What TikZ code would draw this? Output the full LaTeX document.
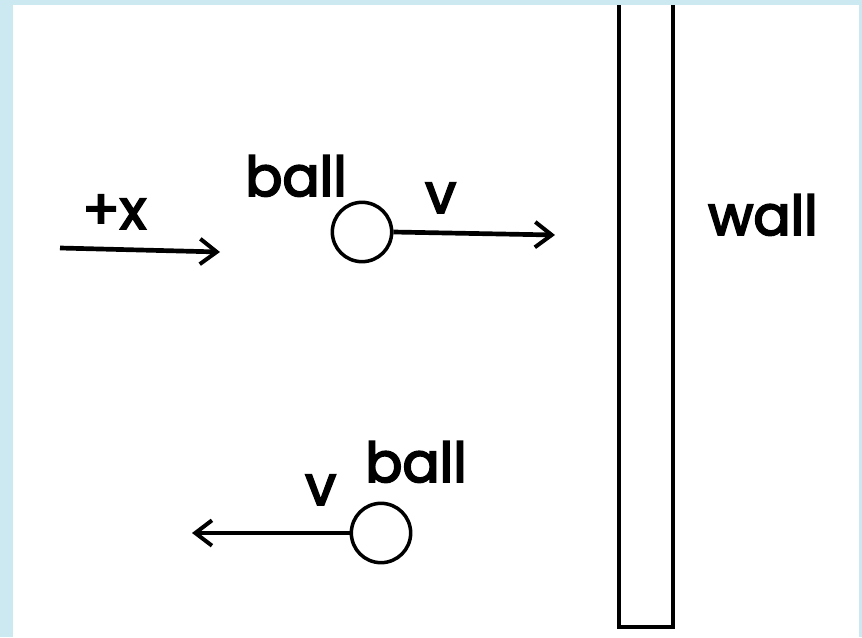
\documentclass[tikz,border=0pt]{standalone}
\usepackage{fontspec}
\setmainfont{Poppins}
\newfontfamily\lblfont{Poppins}[FakeBold=3.5]
\usetikzlibrary{arrows.meta,positioning}
\definecolor{framebg}{HTML}{CCE9F1}
\tikzset{
  ballnode/.style={draw, circle, line width=3pt, inner sep=0pt, minimum size=1.78cm},
  wallbox/.style={draw, line width=3.2pt, inner sep=0pt, minimum width=1.62cm},
  velarrow/.style={-{Straight Barb[length=5mm, width=7.6mm, line width=3.4pt]}, line width=4pt},
  lbl/.style={anchor=base west, inner sep=0pt, font=\fontsize{47}{50}\lblfont},
}

\begin{document}
\begin{tikzpicture}[x=0.03cm, y=-0.03cm]
  % background and frame
  \fill[framebg] (0,0) rectangle (862,637);
  \fill[white] (13,5) rectangle (859,637);
  \useasboundingbox (0,0) rectangle (862,637);

  % wall
  \node[wallbox, minimum height=19.1cm] (wall) at (646,309) {};
  \fill[framebg] (560,0) rectangle (700,5);
  \node[lbl] (walllbl) at (708,235) {wall};

  % axis
  \coordinate (xstart) at (60,248);
  \coordinate (xend) at (220,252);
  \draw[velarrow] (xstart) -- (xend);
  \node[lbl] (xlbl) at (82,229) {+x};

  % ball moving toward the wall
  \node[ballnode] (ballA) at (362,232) {};
  \coordinate (vAend) at (555,235);
  \draw[velarrow] (ballA.east) -- (vAend);
  \node[lbl] (ballAlbl) at (245,196) {ball};
  \node[lbl] (vAlbl) at (425,213) {v};

  % ball coming back
  \node[ballnode] (ballB) at (381,533) {};
  \coordinate (vBend) at (192,533);
  \draw[velarrow] (ballB.west) -- (vBend);
  \node[lbl] (ballBlbl) at (365,482) {ball};
  \node[lbl] (vBlbl) at (305,505) {v};
\end{tikzpicture}
\end{document}
